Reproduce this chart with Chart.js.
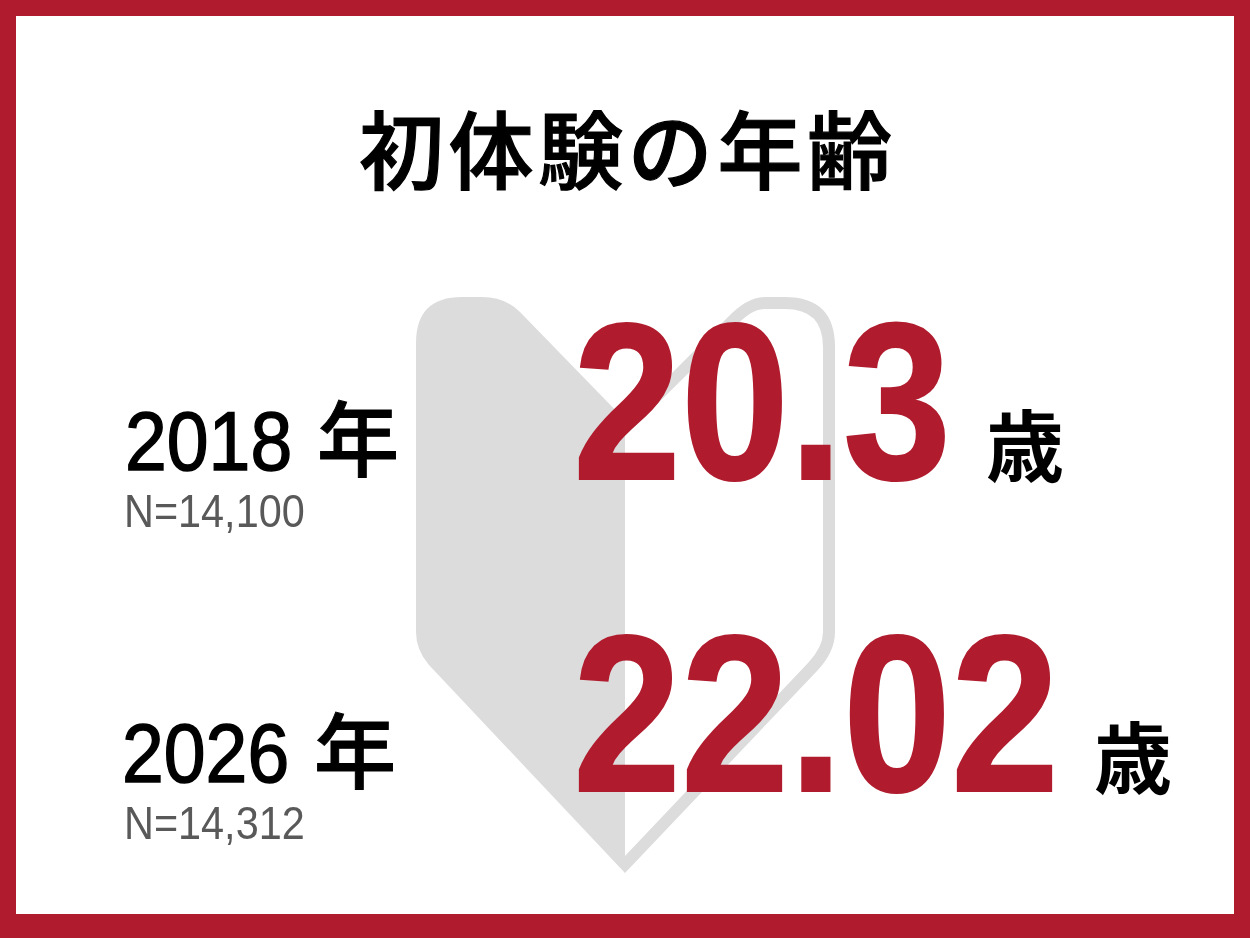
<!DOCTYPE html>
<html><head><meta charset="utf-8">
<script src="https://cdn.jsdelivr.net/npm/chart.js@4"></script>
<style>
html,body{margin:0;padding:0;background:#fff;overflow:hidden}
#wrap{position:relative;width:1250px;height:938px}
#frame{position:absolute;left:0;top:0;width:1250px;height:938px;box-sizing:border-box;border:solid #b01c2e;border-width:16px 16px 24px 16px;background:#fff}
svg,canvas{position:absolute;left:0;top:0}
</style></head><body>
<div id="wrap">
<div id="frame"></div>
<svg width="1250" height="938" viewBox="0 0 1250 938">
<path fill-rule="evenodd" fill="#dcdcdc" d="M625 420 L727 318 Q747 297 765 297 L785 297 Q835 297 835 347 L835 632 Q835 652 817 671 L625 873 Z M625 436 L735 327 Q751 309 765 309 L785 309 Q823 309 823 347 L823 632 Q823 647 808 663 L625 856 Z"/>
<path d="M625 420 L520 312 Q505 297 482 297 L462 297 Q416 297 416 343 L416 632 Q416 650 429 665 L625 873 Z" fill="#dcdcdc"/>
</svg>
<canvas id="c" width="1250" height="938"></canvas>
</div>
<script>
const title = "初体験の年齢";
const categories = ["2018 年", "2026 年"];
const samples = ["N=14,100", "N=14,312"];
const ages = [20.3, 22.02];
const unit = "歳";
const red = "#b01c2e";
const sans = "'Liberation Sans',sans-serif";
const cjk = "'Noto Sans CJK JP',sans-serif";
function squeezed(ctx,text,x,y,sx,strokeW){
  ctx.save();
  ctx.translate(x,y);
  ctx.scale(sx,1);
  ctx.fillText(text,0,0);
  if(strokeW){ctx.lineWidth=strokeW;ctx.strokeStyle=ctx.fillStyle;ctx.strokeText(text,0,0);}
  ctx.restore();
}
const labelPlugin = {
  id:'labels',
  afterDatasetsDraw(chart){
    const ctx = chart.ctx;
    ctx.save();
    ctx.textBaseline='alphabetic';
    ctx.textAlign='left';
    ctx.fillStyle='#000';
    ctx.font="500 85px "+cjk;
    ctx.letterSpacing='4.6px';
    squeezed(ctx,title,359,183,1,1.2);
    ctx.letterSpacing='0px';
    const yScale = chart.scales.y;
    const yearX=[125,122], nenX=[317,314];
    categories.forEach((c,i)=>{
      const row = yScale.getPixelForValue(i);
      const [yr,nen]=c.split(' ');
      ctx.fillStyle='#000';
      ctx.font="84px "+sans;
      squeezed(ctx,yr,yearX[i],row+69.5,0.895,1.5);
      ctx.font="500 82px "+cjk;
      squeezed(ctx,nen,nenX[i],row+70,1,1);
      ctx.fillStyle='#595959';
      ctx.font="46px "+sans;
      squeezed(ctx,samples[i],124,row+126.5,0.9,0);
      const txt=String(ages[i]);
      ctx.fillStyle=red;
      ctx.font="bold 222px "+sans;
      squeezed(ctx,txt,573,row+78.5,0.875,2);
      const w=ctx.measureText(txt).width*0.875;
      ctx.fillStyle='#000';
      ctx.font="700 78px "+cjk;
      ctx.fillText(unit,573+w+35,row+76);
    });
    ctx.restore();
  }
};
new Chart(document.getElementById('c'),{
  type:'bar',
  data:{labels:categories,datasets:[{data:ages,backgroundColor:'rgba(0,0,0,0)',borderWidth:0}]},
  options:{indexAxis:'y',responsive:false,animation:false,devicePixelRatio:1,
    layout:{padding:{top:244,bottom:70,left:0,right:0}},
    plugins:{legend:{display:false},tooltip:{enabled:false},title:{display:false}},
    scales:{y:{display:false},x:{display:false,beginAtZero:true}}},
  plugins:[labelPlugin]
});
</script>
</body></html>
